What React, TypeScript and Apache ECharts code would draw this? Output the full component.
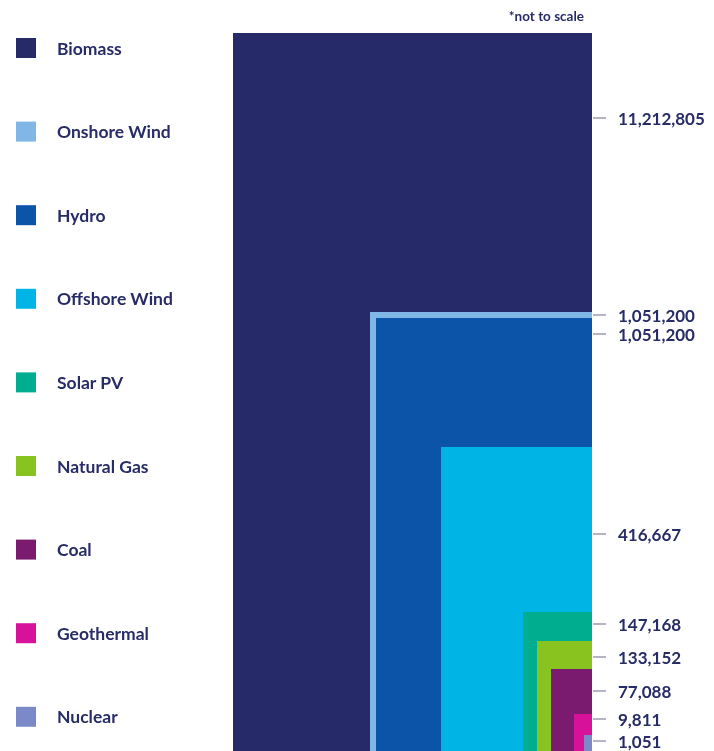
import React, { useEffect, useRef } from "react";
import * as echarts from "echarts";

// ---- data ----
const categories = [
  "Biomass",
  "Onshore Wind",
  "Hydro",
  "Offshore Wind",
  "Solar PV",
  "Natural Gas",
  "Coal",
  "Geothermal",
  "Nuclear",
];
const values = [11212805, 1051200, 1051200, 416667, 147168, 133152, 77088, 9811, 1051];
const valueLabels = [
  "11,212,805",
  "1,051,200",
  "1,051,200",
  "416,667",
  "147,168",
  "133,152",
  "77,088",
  "9,811",
  "1,051",
];

// ---- layout (chart is "not to scale": drawn extent of each nested block, in axis units) ----
const drawnWidth = [359, 222, 216, 151, 69, 55, 41, 18, 8];
const drawnHeight = [359, 219.5, 216.5, 152, 69.5, 55, 41, 18.5, 8];
const labelLevel = [316.5, 218, 208.5, 108.5, 63.5, 47, 30, 16, 5];

// ---- styles ----
const colors = [
  "#272a69",
  "#80b7e6",
  "#0b54a8",
  "#00b5e6",
  "#00ad8e",
  "#88c31f",
  "#7b1b6f",
  "#d8119b",
  "#7b89c9",
];
const textColor = "#272b66";
const tickColor = "#9a9db0";
const fontFamily = "Lato, 'Open Sans', sans-serif";

export default function App() {
  const ref = useRef<HTMLDivElement>(null);

  useEffect(() => {
    if (!ref.current) return;
    const chart = echarts.init(ref.current, undefined, { renderer: "svg" });

    const series = categories.map((name, i) => ({
      type: "custom",
      name,
      coordinateSystem: "cartesian2d",
      itemStyle: { color: colors[i] },
      data: [[drawnWidth[i], drawnHeight[i], labelLevel[i], values[i]]],
      renderItem: (_params: any, api: any) => {
        const w = api.value(0);
        const h = api.value(1);
        const level = api.value(2);
        const p0 = api.coord([0, 0]);
        const p1 = api.coord([w, h]);
        const pl = api.coord([0, level]);
        return {
          type: "group",
          children: [
            {
              type: "rect",
              shape: {
                x: p1[0],
                y: p1[1],
                width: p0[0] - p1[0],
                height: p0[1] - p1[1],
              },
              style: { fill: colors[i] },
            },
            {
              type: "line",
              shape: { x1: p0[0] + 1, y1: pl[1], x2: p0[0] + 14, y2: pl[1] },
              style: { stroke: tickColor, lineWidth: 1.5 },
            },
            {
              type: "text",
              x: p0[0] + 26,
              y: pl[1],
              style: {
                text: valueLabels[i],
                fill: textColor,
                font: `bold 17px ${fontFamily}`,
                lineHeight: 16,
                textAlign: "left",
                textVerticalAlign: "middle",
              },
            },
          ],
        };
      },
    }));

    chart.setOption({
      animation: false,
      grid: { left: 233, top: 33, width: 359, height: 718 },
      xAxis: { type: "value", min: 0, max: 359, inverse: true, show: false },
      yAxis: { type: "value", min: 0, max: 359, show: false },
      legend: {
        orient: "vertical",
        left: 16,
        top: 38,
        padding: 0,
        itemWidth: 20,
        itemHeight: 20,
        itemGap: 63.6,
        icon: "rect",
        selectedMode: false,
        data: categories,
        textStyle: {
          color: textColor,
          fontSize: 17.5,
          fontWeight: "bold",
          fontFamily,
          lineHeight: 20,
          padding: [0, 0, 0, 16],
        },
      },
      graphic: [
        {
          type: "text",
          right: 130,
          top: 9,
          style: {
            text: "*not to scale",
            fill: textColor,
            font: `bold 13.5px ${fontFamily}`,
          },
        },
      ],
      series,
    });

    return () => chart.dispose();
  }, []);

  return (
    <div
      ref={ref}
      style={{ position: "fixed", left: 0, top: 0, width: 714, height: 751 }}
    />
  );
}
